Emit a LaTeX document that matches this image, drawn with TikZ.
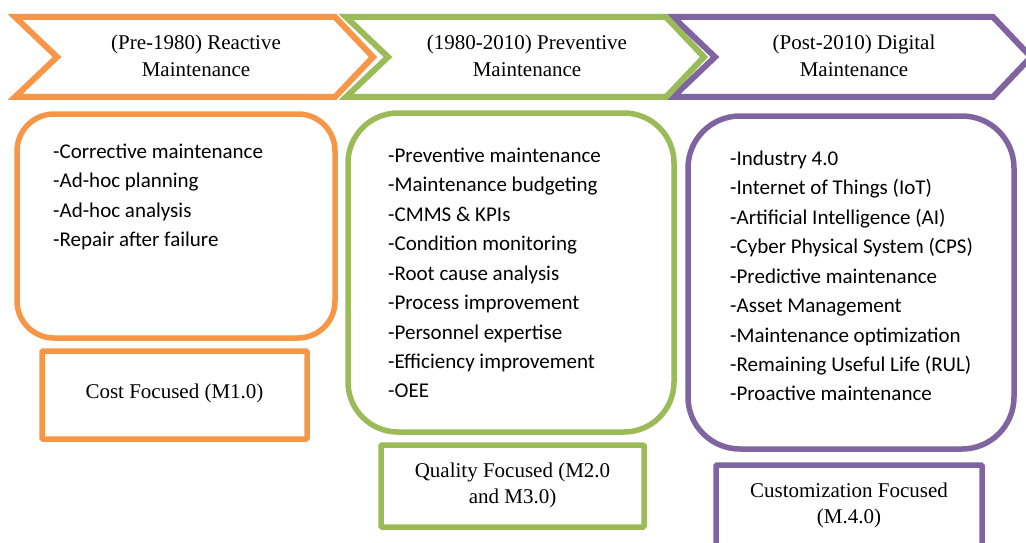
\documentclass[tikz,border=0pt]{standalone}
\usepackage{fontspec}
\setmainfont{Liberation Serif}
\newfontfamily\calfont{Carlito}
\definecolor{orng}{HTML}{F79646}
\definecolor{grn}{HTML}{9BBB59}
\definecolor{purp}{HTML}{8064A2}
\tikzset{
  chev/.style={line width=6pt, fill=white},
  rbox/.style={line width=5.5pt, fill=white},
  fbox/.style={line width=5.5pt, fill=white, rounded corners=1pt},
  ttl/.style={font=\fontsize{21}{27}\selectfont, inner sep=0pt, anchor=base},
  lst/.style={font=\calfont\fontsize{21}{29.5}\selectfont, inner sep=0pt, anchor=base west},
  ftxt/.style={font=\fontsize{21}{26}\selectfont, inner sep=0pt, anchor=base}
}
\begin{document}
\begin{tikzpicture}[x=1pt,y=-1pt]
\useasboundingbox (0,0) rectangle (1026,543);
\clip (0,0) rectangle (1026,543);
% chevrons
\draw[chev, draw=purp] (673,17) -- (993,17) -- (1031,57) -- (993,97) -- (673,97) -- (715,57) -- cycle;
\draw[chev, draw=grn] (346,17) -- (666,17) -- (704,57) -- (666,97) -- (346,97) -- (388,57) -- cycle;
\draw[chev, draw=orng] (15,17) -- (335,17) -- (373,57) -- (335,97) -- (15,97) -- (57,57) -- cycle;
\node[ttl] (t1) at (196,50) {\begin{tabular}[t]{@{}c@{}}(Pre-1980) Reactive\\ Maintenance\end{tabular}};
\node[ttl] (t2) at (527,50) {\begin{tabular}[t]{@{}c@{}}(1980-2010) Preventive\\ Maintenance\end{tabular}};
\node[ttl] (t3) at (854,50) {\begin{tabular}[t]{@{}c@{}}(Post-2010) Digital\\ Maintenance\end{tabular}};
% rounded boxes
\draw[rbox, draw=orng, rounded corners=37pt] (17,114) rectangle (335,338);
\draw[rbox, draw=grn, rounded corners=50pt] (348,113) rectangle (674,432);
\draw[rbox, draw=purp, rounded corners=52pt] (688,116) rectangle (1014,449);
\node[lst] (l1) at (53,158) {\begin{tabular}[t]{@{}l@{}}-Corrective maintenance\\ -Ad-hoc planning\\ -Ad-hoc analysis\\ -Repair after failure\end{tabular}};
\node[lst] (l2) at (388,162) {\begin{tabular}[t]{@{}l@{}}-Preventive maintenance\\ -Maintenance budgeting\\ -CMMS \& KPIs\\ -Condition monitoring\\ -Root cause analysis\\ -Process improvement\\ -Personnel expertise\\ -Efficiency improvement\\ -OEE\end{tabular}};
\node[lst] (l3) at (730,165) {\begin{tabular}[t]{@{}l@{}}-Industry 4.0\\ -Internet of Things (IoT)\\ -Artificial Intelligence (AI)\\ -Cyber Physical System (CPS)\\ -Predictive maintenance\\ -Asset Management\\ -Maintenance optimization\\ -Remaining Useful Life (RUL)\\ -Proactive maintenance\end{tabular}};
% focus boxes
\draw[fbox, draw=orng] (42,351) rectangle (307,439);
\draw[fbox, draw=grn] (381,445) rectangle (644,527);
\draw[fbox, draw=purp] (716,465) rectangle (982,575);
\node[ftxt] (f1) at (174.5,398) {Cost Focused (M1.0)};
\node[ftxt] (f2) at (512.5,477) {\begin{tabular}[t]{@{}c@{}}Quality Focused (M2.0\\ and M3.0)\end{tabular}};
\node[ftxt] (f3) at (849,497) {\begin{tabular}[t]{@{}c@{}}Customization Focused\\ (M.4.0)\end{tabular}};
\end{tikzpicture}
\end{document}
